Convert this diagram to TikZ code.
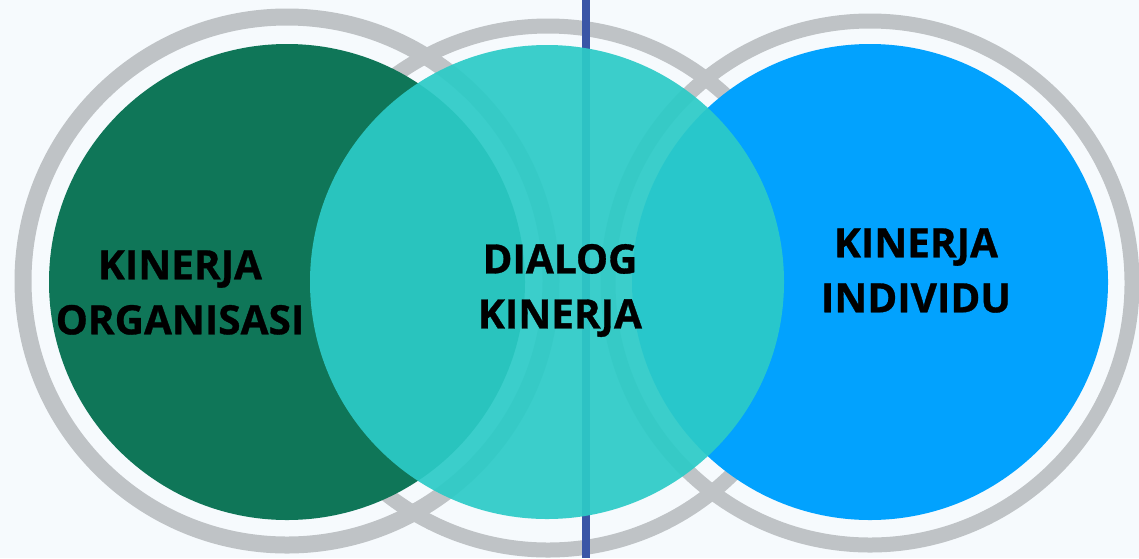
\documentclass[tikz,border=0pt]{standalone}
\usepackage{fontspec}
\setmainfont{Open Sans}[BoldFeatures={FakeBold=0.8}]
\definecolor{bgc}{HTML}{F6FAFD}
\definecolor{ringc}{HTML}{BFC3C6}
\definecolor{greenc}{HTML}{0F7658}
\definecolor{bluec}{HTML}{02A2FE}
\definecolor{tealc}{HTML}{2CCBC7}
\definecolor{linec}{HTML}{3A55A6}
\begin{document}
\begin{tikzpicture}[x=1pt,y=-1pt,
  ring/.style={draw=ringc,line width=#1},
  disc/.style={circle,inner sep=0pt,minimum size=476pt,draw=none},
  label/.style={font=\bfseries\fontsize{40.5}{55}\selectfont,align=center,text=black,inner sep=0pt}]
\useasboundingbox (0,0) rectangle (1139,558);
\fill[bgc] (0,0) rectangle (1139,558);
% rings
\draw[ring=17pt] (287,281) circle[radius=264];
\draw[ring=15pt] (548,288) circle[radius=262];
\draw[ring=15pt] (870,283) circle[radius=262];
% discs
\node[disc,fill=greenc] (org) at (287,282) {};
\node[disc,fill=bluec] (ind) at (870,282) {};
\coordinate (ltop) at (586,0);
\coordinate (lbot) at (586,558);
\draw[linec,line width=8pt] (ltop) -- (lbot);
\node[disc,minimum size=474pt,fill=tealc,fill opacity=0.925] (dia) at (547,282) {};
% labels
\node[label] (torg) at (180,292.5) {KINERJA\\ORGANISASI};
\node[label] (tdia) at (560,290.5) {DIALOG\\KINERJA};
\node[label] (tind) at (916,270.5) {KINERJA\\INDIVIDU};
\end{tikzpicture}
\end{document}
